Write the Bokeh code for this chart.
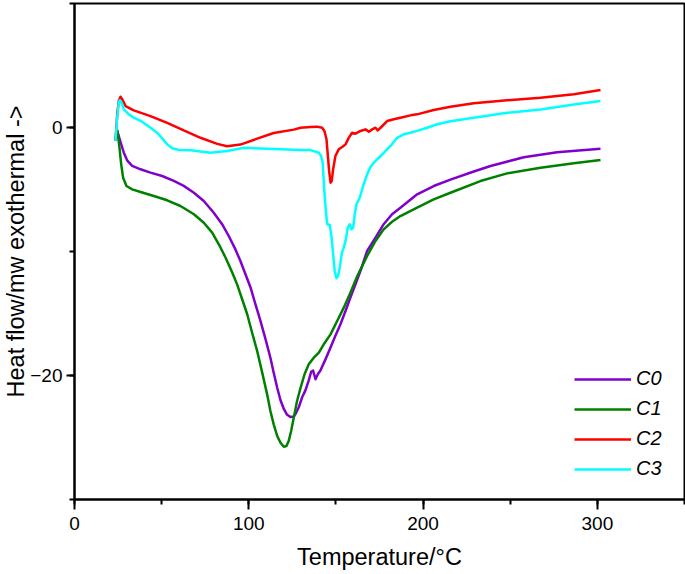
from bokeh.plotting import figure
from bokeh.models import Range1d, SingleIntervalTicker, Legend, LegendItem
from bokeh.embed import file_html
from bokeh.resources import INLINE

# ---------------- data ----------------
t_c0 = [23.5, 24.5, 25.4, 26.8, 28.3, 30.2, 33.1, 37.9, 43.6, 50.3, 57.0, 62.7, 68.5, 74.2, 79.9,
        84.7, 88.5, 92.4, 95.2, 98.1, 101.0, 103.8, 106.7, 109.6, 112.4, 114.3, 116.3, 118.2, 120.1,
        122.0, 123.9, 125.8, 126.8, 128.7, 130.6, 132.5, 134.4, 135.8, 136.9, 138.3, 139.6, 141.1,
        144.0, 146.9, 149.7, 152.6, 155.5, 158.3, 161.2, 164.1, 167.9, 172.7, 177.4, 182.2, 187.0,
        196.6, 206.1, 215.7, 229.1, 238.7, 257.8, 276.9, 301.8]
hf_c0 = [-1.09, -0.28, -0.69, -1.35, -2.03, -2.65, -3.1, -3.37, -3.64, -3.91, -4.31, -4.71, -5.26,
         -5.93, -6.87, -7.8, -8.75, -9.85, -10.77, -11.83, -12.9, -14.25, -15.6, -17.07, -18.57,
         -19.78, -20.99, -22.0, -22.7, -23.17, -23.35, -23.3, -23.1, -22.56, -21.76, -21.2, -20.4,
         -19.7, -19.6, -20.3, -19.9, -19.6, -18.7, -17.75, -16.8, -15.87, -14.8, -13.72, -12.64,
         -11.56, -9.95, -8.88, -7.8, -7.0, -6.47, -5.39, -4.72, -4.2, -3.55, -3.1, -2.4, -2.0,
         -1.72]

t_c1 = [24.5, 24.9, 25.8, 26.8, 27.9, 29.8, 33.1, 37.9, 45.5, 53.2, 60.8, 68.5, 74.2, 79.0, 82.8,
        86.7, 90.5, 93.3, 96.2, 99.1, 101.9, 104.8, 107.7, 110.5, 112.4, 114.3, 116.3, 118.2, 120.1,
        121.6, 122.9, 124.3, 125.8, 127.7, 129.7, 132.0, 134.4, 137.3, 140.2, 143.0, 146.9, 150.7,
        154.5, 158.3, 162.2, 167.9, 172.7, 177.4, 182.2, 187.0, 196.6, 206.1, 215.7, 232.9, 248.2,
        267.4, 286.5, 301.8]
hf_c1 = [-0.2, -0.55, -1.63, -2.97, -4.05, -4.72, -4.99, -5.2, -5.52, -5.87, -6.33, -7.0, -7.68,
         -8.48, -9.42, -10.5, -11.7, -12.65, -13.85, -15.06, -16.55, -18.02, -19.77, -21.5, -22.86,
         -23.94, -24.88, -25.42, -25.74, -25.69, -25.28, -24.48, -23.4, -22.06, -20.99, -19.9, -19.1,
         -18.56, -18.16, -17.48, -16.68, -15.6, -14.53, -13.32, -12.0, -10.36, -9.15, -8.21, -7.6,
         -7.14, -6.47, -5.79, -5.26, -4.32, -3.7, -3.24, -2.89, -2.62]

t_c2 = [23.5, 24.5, 25.4, 26.4, 27.4, 29.3, 34.0, 43.6, 53.2, 62.7, 72.3, 81.9, 87.6, 95.2, 104.8,
        114.3, 125.8, 129.7, 135.4, 139.2, 142.1, 143.4, 144.6, 145.3, 146.1, 146.9, 147.6, 148.4,
        149.7, 151.6, 153.6, 155.5, 157.4, 159.3, 161.2, 164.1, 167.0, 168.9, 170.8, 172.7, 174.0,
        175.6, 179.4, 183.2, 187.0, 192.8, 196.6, 206.1, 215.7, 229.1, 248.2, 267.4, 286.5, 301.8]
hf_c2 = [-1.09, 1.06, 2.14, 2.48, 2.27, 1.73, 1.38, 0.92, 0.38, -0.24, -0.83, -1.32, -1.51, -1.38,
         -0.9, -0.44, -0.17, -0.02, 0.04, 0.07, -0.02, -0.28, -0.95, -2.16, -3.5, -4.45, -4.31,
         -3.37, -2.3, -1.76, -1.57, -1.36, -0.82, -0.42, -0.5, -0.28, -0.15, -0.34, -0.15, -0.02,
         -0.23, -0.02, 0.52, 0.66, 0.79, 0.98, 1.06, 1.41, 1.67, 1.95, 2.19, 2.4, 2.68, 3.02]

t_c3 = [23.5, 24.5, 25.4, 26.0, 27.0, 28.3, 31.2, 34.0, 38.8, 43.6, 47.4, 50.3, 53.2, 56.1, 59.9,
        66.6, 78.0, 87.6, 97.1, 110.5, 129.7, 135.4, 140.2, 141.5, 142.4, 143.0, 143.6, 144.4,
        145.0, 146.5, 147.5, 148.4, 149.3, 150.3, 151.2, 152.2, 153.4, 154.5, 155.7, 156.8, 157.9,
        158.9, 159.9, 160.8, 161.8, 163.7, 165.6, 167.9, 169.8, 171.7, 174.6, 177.4, 181.3, 185.1,
        188.9, 192.8, 197.5, 202.4, 208.1, 215.7, 229.1, 248.2, 267.4, 286.5, 301.8]
hf_c3 = [-1.09, 0.79, 2.0, 2.2, 2.0, 1.47, 1.06, 0.79, 0.47, -0.02, -0.42, -0.87, -1.36, -1.68,
         -1.81, -1.84, -2.03, -1.9, -1.63, -1.71, -1.82, -1.82, -2.04, -2.3, -2.84, -4.3, -5.66,
         -7.0, -7.8, -7.86, -8.89, -10.2, -11.57, -12.16, -11.98, -11.29, -10.1, -9.69, -9.02, -8.08,
         -7.8, -8.21, -8.08, -7.0, -6.19, -5.66, -4.72, -3.78, -3.19, -2.84, -2.44, -2.04, -1.49,
         -0.83, -0.55, -0.42, -0.23, -0.02, 0.26, 0.5, 0.79, 1.19, 1.46, 1.86, 2.13]

series_names = ["C0", "C1", "C2", "C3"]
series_colors = ["#8000cc", "#008000", "#ff0000", "#00ffff"]

x_label = "Temperature/°C"
y_label = "Heat flow/mw exothermal ->"
y_tick_labels = {0: "0", -20: "\u221220"}

# ---------------- figure ----------------
FONT = "Liberation Sans"

p = figure(width=685, height=574, output_backend="svg", toolbar_location=None,
           x_range=Range1d(0, 350), y_range=Range1d(-30, 10),
           min_border_left=74, min_border_right=1, min_border_top=3, min_border_bottom=75)
p.grid.visible = False
p.background_fill_color = "white"
p.border_fill_color = "white"
p.outline_line_color = "black"
p.outline_line_width = 2
p.outline_line_alpha = 1.0

p.xaxis.ticker = SingleIntervalTicker(interval=100, num_minor_ticks=2)
p.yaxis.ticker = SingleIntervalTicker(interval=20, num_minor_ticks=2)
p.yaxis.major_label_overrides = y_tick_labels

for ax in (p.xaxis[0], p.yaxis[0]):
    ax.axis_line_width = 2
    ax.axis_line_color = "black"
    ax.major_tick_line_width = 2
    ax.minor_tick_line_width = 2
    ax.major_tick_line_color = "black"
    ax.minor_tick_line_color = "black"
    ax.major_tick_in = 0
    ax.minor_tick_in = 0
    ax.minor_tick_out = 5
    ax.major_label_text_font = FONT
    ax.major_label_text_font_size = "19px"
    ax.major_label_text_color = "black"
    ax.axis_label_text_font = FONT
    ax.axis_label_text_font_size = "23.5px"
    ax.axis_label_text_font_style = "normal"
    ax.axis_label_text_color = "black"

p.xaxis.major_tick_out = 10
p.xaxis.major_label_standoff = 7
p.xaxis.axis_label = x_label
p.xaxis.axis_label_standoff = 11

p.yaxis.major_tick_out = 8
p.yaxis.major_label_standoff = 4
p.yaxis.axis_label = y_label
p.yaxis.axis_label_standoff = -2

xs = [t_c0, t_c1, t_c2, t_c3]
ys = [hf_c0, hf_c1, hf_c2, hf_c3]
items = []
for name, color, x, y in zip(series_names, series_colors, xs, ys):
    r = p.line(x, y, line_color=color, line_width=2.5, line_join="round")
    items.append(LegendItem(label=name, renderers=[r]))

legend = Legend(items=items, location=(500, 19), glyph_width=57, glyph_height=20,
                label_height=20, label_standoff=5, spacing=7, padding=0, margin=0,
                border_line_alpha=0, background_fill_alpha=0,
                label_text_font=FONT, label_text_font_size="20px",
                label_text_font_style="italic", label_text_color="black")
p.add_layout(legend)

open("out.html", "w").write(file_html(p, INLINE))
